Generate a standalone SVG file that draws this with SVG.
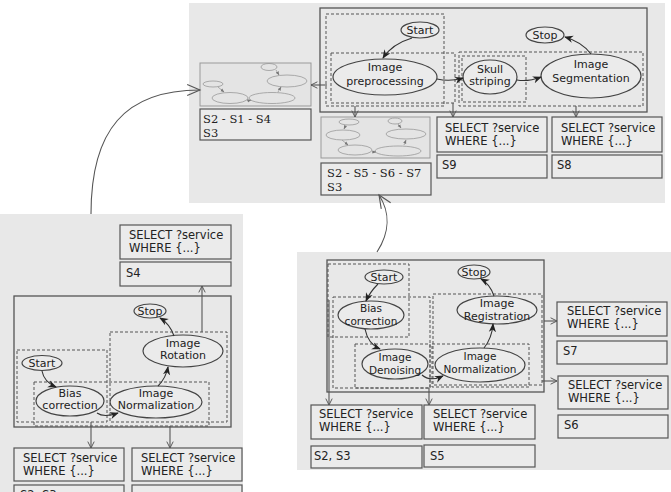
<svg xmlns="http://www.w3.org/2000/svg" width="671" height="492" viewBox="0 0 671 492">
<defs>
<style>
.panel{fill:#e8e8e8;stroke:none}
.frame{fill:none;stroke:#555;stroke-width:1.3}
.dash{fill:none;stroke:#555;stroke-width:1;stroke-dasharray:3,2}
.node{fill:#ebebeb;stroke:#444;stroke-width:1.2}
.box{fill:#ebebeb;stroke:#555;stroke-width:1.2}
.thumb{fill:#e4e4e4;stroke:#999;stroke-width:1}
.te{fill:none;stroke:#999;stroke-width:0.8}
.t{font-family:"DejaVu Sans",Verdana,sans-serif;font-size:11px;fill:#222;text-anchor:middle}
.t2{font-family:"DejaVu Sans",Verdana,sans-serif;font-size:10.5px;fill:#222;text-anchor:middle}
.q{font-family:"DejaVu Sans",Verdana,sans-serif;font-size:11.5px;fill:#222}
.s{font-family:"DejaVu Serif","Liberation Serif",serif;font-size:11.5px;fill:#222}
.e{fill:none;stroke:#333;stroke-width:1.1}
.c{fill:none;stroke:#555;stroke-width:1.1}
</style>
<marker id="fa" viewBox="0 0 10 10" refX="9" refY="5" markerWidth="9" markerHeight="9" markerUnits="userSpaceOnUse" orient="auto"><path d="M0,1 L10,5 L0,9 L3,5 z" fill="#222"/></marker>
<marker id="oa" viewBox="0 0 10 10" refX="9" refY="5" markerWidth="8" markerHeight="8" markerUnits="userSpaceOnUse" orient="auto"><path d="M1,1 L9,5 L1,9" fill="none" stroke="#555" stroke-width="1.2"/></marker>
<marker id="ob" viewBox="0 0 10 10" refX="9" refY="5" markerWidth="16" markerHeight="16" markerUnits="userSpaceOnUse" orient="auto"><path d="M1,1.5 L9,5 L1,8.5" fill="none" stroke="#555" stroke-width="0.7"/></marker>
<marker id="ta" viewBox="0 0 10 10" refX="9" refY="5" markerWidth="4" markerHeight="4" markerUnits="userSpaceOnUse" orient="auto"><path d="M0,1 L10,5 L0,9 z" fill="#777"/></marker>
</defs>

<!-- panels -->
<g id="panel-top">
<rect class="panel" x="189" y="3" width="476" height="200"/>
<rect class="frame" x="320" y="8" width="327" height="104"/>
<rect class="dash" x="326" y="14" width="118" height="92"/>
<rect class="dash" x="331" y="53" width="124" height="50"/>
<rect class="dash" x="459" y="52" width="184" height="54"/>
<rect class="dash" x="462" y="56" width="64" height="46"/>
</g>
<g id="panel-left">
<rect class="panel" x="0" y="214" width="243" height="278"/>
<rect class="frame" x="14" y="296" width="217" height="131"/>
<rect class="dash" x="17" y="350" width="90" height="72"/>
<rect class="dash" x="110" y="332" width="117" height="90"/>
<rect class="dash" x="34" y="382" width="175" height="44"/>
</g>
<g id="panel-right">
<rect class="panel" x="297" y="252" width="374" height="218"/>
<rect class="frame" x="327" y="260" width="217" height="132"/>
<rect class="dash" x="328" y="264" width="81" height="73"/>
<rect class="dash" x="333" y="297" width="97" height="91"/>
<rect class="dash" x="355" y="344" width="75" height="44"/>
<rect class="dash" x="433" y="294" width="109" height="91"/>
<rect class="dash" x="432" y="344" width="97" height="43"/>
</g>

<!-- thumbnails -->
<g id="thumb1">
<rect class="thumb" x="200" y="63" width="111" height="43"/>
<ellipse class="te" cx="269" cy="67" rx="8" ry="3.5"/>
<ellipse class="te" cx="287" cy="81" rx="20" ry="6"/>
<ellipse class="te" cx="213" cy="84" rx="10" ry="3"/>
<ellipse class="te" cx="230" cy="98" rx="18" ry="5.5"/>
<ellipse class="te" cx="272" cy="98" rx="23" ry="5.5"/>
<path class="te" d="M276,70 L279,75" marker-end="url(#ta)"/>
<path class="te" d="M218,87 L224,92" marker-end="url(#ta)"/>
<path class="te" d="M247,101 L251,100" marker-end="url(#ta)"/>
<path class="te" d="M278,92 L281,87" marker-end="url(#ta)"/>
</g>
<g id="text1">
<rect class="box" x="200" y="109" width="111" height="31"/>
<text class="s" x="203" y="123">S2 - S1 - S4</text>
<text class="s" x="203" y="137">S3</text>
</g>
<g id="thumb2">
<rect class="thumb" x="321" y="117" width="109" height="41"/>
<ellipse class="te" cx="349" cy="122" rx="10" ry="3"/>
<ellipse class="te" cx="343" cy="135" rx="17" ry="5"/>
<ellipse class="te" cx="395" cy="121" rx="7" ry="3"/>
<ellipse class="te" cx="406" cy="134" rx="20" ry="5"/>
<ellipse class="te" cx="355" cy="150" rx="17" ry="5"/>
<ellipse class="te" cx="398" cy="151" rx="23" ry="5"/>
<path class="te" d="M346,125 L344,129" marker-end="url(#ta)"/>
<path class="te" d="M342,140 L348,145" marker-end="url(#ta)"/>
<path class="te" d="M372,152 L376,152" marker-end="url(#ta)"/>
<path class="te" d="M404,145 L406,140" marker-end="url(#ta)"/>
<path class="te" d="M398,124 L401,128" marker-end="url(#ta)"/>
</g>
<g id="text2">
<rect class="box" x="321" y="163" width="110" height="32"/>
<text class="s" x="327" y="177">S2 - S5 - S6 - S7</text>
<text class="s" x="327" y="191">S3</text>
</g>

<!-- top graph nodes -->
<g id="t-start"><ellipse class="node" cx="420" cy="30" rx="19" ry="8"/><text class="t" x="420" y="34">Start</text></g>
<g id="t-pre"><ellipse class="node" cx="385" cy="77" rx="52" ry="18"/><text class="t" x="385" y="71">Image</text><text class="t" x="385" y="85">preprocessing</text></g>
<g id="t-skull"><ellipse class="node" cx="490" cy="77" rx="27" ry="17"/><text class="t" x="490" y="73">Skull</text><text class="t" x="490" y="85">striping</text></g>
<g id="t-seg"><ellipse class="node" cx="591" cy="76" rx="50" ry="22"/><text class="t" x="591" y="68">Image</text><text class="t" x="591" y="82">Segmentation</text></g>
<g id="t-stop"><ellipse class="node" cx="545" cy="35" rx="19" ry="8"/><text class="t" x="545" y="39">Stop</text></g>
<g id="t-q9"><rect class="box" x="437" y="117" width="110" height="35"/><text class="q" x="445" y="132">SELECT ?service</text><text class="q" x="445" y="145">WHERE {...}</text></g>
<g id="t-s9"><rect class="box" x="437" y="155" width="110" height="23"/><text class="q" x="442" y="169">S9</text></g>
<g id="t-q8"><rect class="box" x="552" y="117" width="110" height="35"/><text class="q" x="561" y="132">SELECT ?service</text><text class="q" x="561" y="145">WHERE {...}</text></g>
<g id="t-s8"><rect class="box" x="552" y="155" width="110" height="23"/><text class="q" x="557" y="169">S8</text></g>

<!-- left graph nodes -->
<g id="l-q4"><rect class="box" x="120" y="225" width="111" height="34"/><text class="q" x="129" y="239">SELECT ?service</text><text class="q" x="129" y="252">WHERE {...}</text></g>
<g id="l-s4"><rect class="box" x="120" y="262" width="111" height="24"/><text class="q" x="126" y="277">S4</text></g>
<g id="l-stop"><ellipse class="node" cx="150" cy="311" rx="16" ry="7"/><text class="t" x="150" y="315">Stop</text></g>
<g id="l-rot"><ellipse class="node" cx="183" cy="351" rx="40" ry="16"/><text class="t" x="183" y="347">Image</text><text class="t" x="183" y="359">Rotation</text></g>
<g id="l-start"><ellipse class="node" cx="42" cy="363" rx="20" ry="7.5"/><text class="t" x="42" y="367">Start</text></g>
<g id="l-bias"><ellipse class="node" cx="70" cy="401" rx="34" ry="15"/><text class="t" x="70" y="397">Bias</text><text class="t" x="70" y="409">correction</text></g>
<g id="l-norm"><ellipse class="node" cx="156" cy="402" rx="46" ry="16"/><text class="t" x="156" y="397">Image</text><text class="t" x="156" y="409">Normalization</text></g>
<g id="l-q1"><rect class="box" x="14" y="448" width="110" height="33"/><text class="q" x="23" y="462">SELECT ?service</text><text class="q" x="23" y="475">WHERE {...}</text></g>
<g id="l-q2"><rect class="box" x="132" y="448" width="110" height="33"/><text class="q" x="141" y="462">SELECT ?service</text><text class="q" x="141" y="475">WHERE {...}</text></g>
<g id="l-s1"><rect class="box" x="14" y="485" width="110" height="24"/><text class="q" x="20" y="499">S2, S3</text></g>
<g id="l-s2"><rect class="box" x="132" y="485" width="110" height="24"/></g>

<!-- right graph nodes -->
<g id="r-start"><ellipse class="node" cx="384" cy="277" rx="19" ry="7"/><text class="t" x="384" y="281">Start</text></g>
<g id="r-bias"><ellipse class="node" cx="371" cy="315" rx="33" ry="14"/><text class="t2" x="371" y="312">Bias</text><text class="t2" x="371" y="325">correction</text></g>
<g id="r-stop"><ellipse class="node" cx="474" cy="272" rx="16" ry="7"/><text class="t" x="474" y="276">Stop</text></g>
<g id="r-reg"><ellipse class="node" cx="497" cy="310" rx="40" ry="14"/><text class="t" x="497" y="307">Image</text><text class="t" x="497" y="320">Registration</text></g>
<g id="r-den"><ellipse class="node" cx="395" cy="364" rx="33" ry="15"/><text class="t2" x="395" y="361">Image</text><text class="t2" x="395" y="374">Denoising</text></g>
<g id="r-norm"><ellipse class="node" cx="480" cy="365" rx="45" ry="17"/><text class="t2" x="480" y="360">Image</text><text class="t2" x="480" y="373">Normalization</text></g>
<g id="r-q7"><rect class="box" x="557" y="302" width="110" height="34"/><text class="q" x="567" y="315">SELECT ?service</text><text class="q" x="567" y="328">WHERE {...}</text></g>
<g id="r-s7"><rect class="box" x="557" y="341" width="110" height="23"/><text class="q" x="563" y="355">S7</text></g>
<g id="r-q6"><rect class="box" x="558" y="376" width="110" height="33"/><text class="q" x="568" y="389">SELECT ?service</text><text class="q" x="568" y="402">WHERE {...}</text></g>
<g id="r-s6"><rect class="box" x="558" y="415" width="110" height="23"/><text class="q" x="564" y="429">S6</text></g>
<g id="r-q23"><rect class="box" x="311" y="405" width="111" height="34"/><text class="q" x="319" y="418">SELECT ?service</text><text class="q" x="319" y="431">WHERE {...}</text></g>
<g id="r-s23"><rect class="box" x="311" y="446" width="111" height="22"/><text class="q" x="314" y="460">S2, S3</text></g>
<g id="r-q5"><rect class="box" x="424" y="405" width="111" height="34"/><text class="q" x="433" y="418">SELECT ?service</text><text class="q" x="433" y="431">WHERE {...}</text></g>
<g id="r-s5"><rect class="box" x="424" y="445" width="111" height="22"/><text class="q" x="430" y="460">S5</text></g>

<!-- connectors -->
<g id="connectors">
<path class="e" d="M412,38 Q392,44 383,58" marker-end="url(#fa)"/>
<path class="e" d="M437,79 Q450,82 463,78" marker-end="url(#fa)"/>
<path class="e" d="M517,80 Q528,82 541,77" marker-end="url(#fa)"/>
<path class="e" d="M591,54 Q582,42 565,37" marker-end="url(#fa)"/>
<path class="c" d="M327,85 L311,85" marker-end="url(#oa)"/>
<path class="c" d="M355,106 L355,117" marker-end="url(#oa)"/>
<path class="c" d="M453,103 L453,117" marker-end="url(#oa)"/>
<path class="c" d="M576,106 L576,117" marker-end="url(#oa)"/>
<path class="c" d="M91,214 C91,130 125,90 200,90" marker-end="url(#ob)"/>
<path class="c" d="M377,252 C390,232 390,212 379,195" marker-end="url(#ob)"/>
<path class="e" d="M42,371 Q44,382 56,387" marker-end="url(#fa)"/>
<path class="e" d="M97,413 Q104,418 118,413" marker-end="url(#fa)"/>
<path class="e" d="M158,386 Q166,378 168,367" marker-end="url(#fa)"/>
<path class="e" d="M174,336 Q170,324 160,318" marker-end="url(#fa)"/>
<path class="c" d="M202,332 L202,286" marker-end="url(#oa)"/>
<path class="c" d="M91,422 L91,448" marker-end="url(#oa)"/>
<path class="c" d="M170,426 L170,448" marker-end="url(#oa)"/>
<path class="e" d="M378,284 Q370,292 366,301" marker-end="url(#fa)"/>
<path class="e" d="M365,329 Q368,344 380,349" marker-end="url(#fa)"/>
<path class="e" d="M422,375 Q430,382 443,376" marker-end="url(#fa)"/>
<path class="e" d="M484,348 Q492,338 493,324" marker-end="url(#fa)"/>
<path class="e" d="M494,296 Q490,284 481,279" marker-end="url(#fa)"/>
<path class="c" d="M544,321 L557,321" marker-end="url(#oa)"/>
<path class="c" d="M542,381 L557,381" marker-end="url(#oa)"/>
<path class="c" d="M329,300 L329,405" marker-end="url(#oa)"/>
<path class="c" d="M429,388 L429,405" marker-end="url(#oa)"/>
</g>
</svg>
